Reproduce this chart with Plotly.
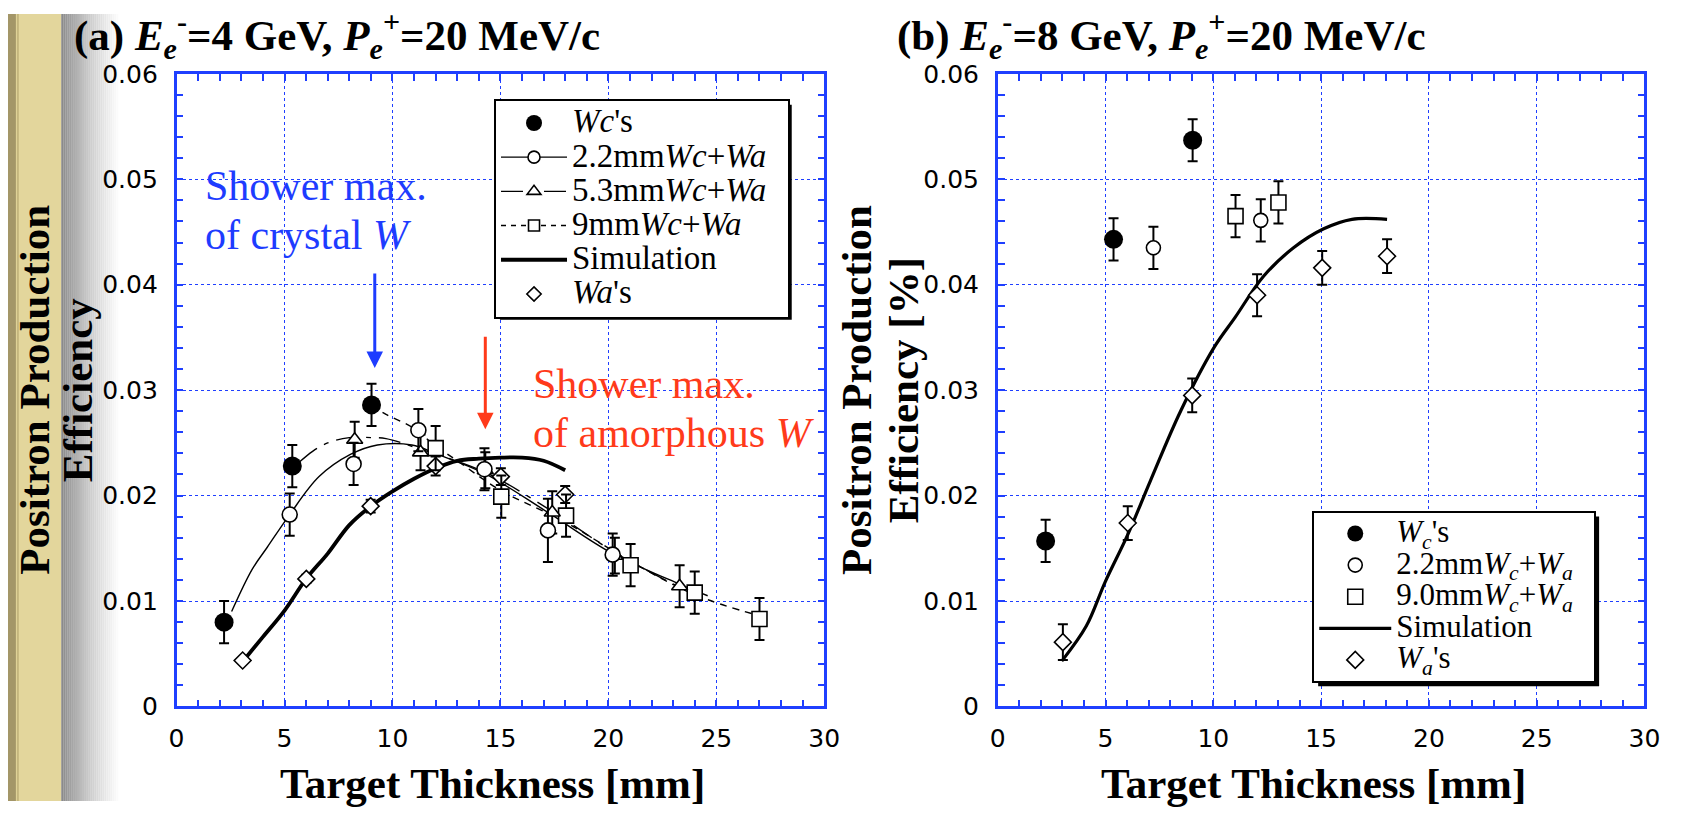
import plotly.graph_objects as go

W, H = 1693, 816

# ---------------- Panel (a): Ee- = 4 GeV ----------------
wc_a_x = [2.2, 5.36, 9.03]
wc_a_y = [0.0080, 0.0228, 0.0286]
wc_a_err = [0.002, 0.002, 0.002]

c22_a_x = [5.24, 8.2, 11.2, 14.26, 17.2, 20.2]
c22_a_y = [0.0182, 0.0230, 0.0262, 0.0225, 0.0167, 0.0144]
c22_a_err = [0.002, 0.002, 0.002, 0.002, 0.003, 0.002]

c53_a_x = [8.25, 11.3, 14.3, 17.4, 20.3, 23.3]
c53_a_y = [0.0253, 0.0241, 0.0224, 0.0184, 0.0143, 0.0114]
c53_a_err = [0.0017, 0.0017, 0.0017, 0.0020, 0.0017, 0.0020]

c9_a_x = [12.0, 15.04, 18.04, 21.03, 24.0, 27.0]
c9_a_y = [0.0245, 0.0199, 0.0181, 0.0134, 0.0108, 0.0083]
c9_a_err = [0.0021, 0.002, 0.002, 0.002, 0.002, 0.002]

wa_a_x = [3.06, 6.01, 8.99, 12.0, 15.02, 18.0]
wa_a_y = [0.00436, 0.0121, 0.0190, 0.0228, 0.0218, 0.0201]
wa_a_err = [0.0, 0.0004, 0.0006, 0.0009, 0.0008, 0.0008]

sim_a_x = [3.0, 4.0, 5.0, 6.0, 7.0, 8.0, 9.0, 10.0, 11.0, 12.0, 13.0, 14.0, 15.0, 16.0, 17.0, 18.0]
sim_a_y = [0.0041, 0.0066, 0.0091, 0.0121, 0.0145, 0.0172, 0.0190, 0.0204, 0.0216, 0.0226,
           0.0233, 0.0235, 0.0236, 0.0236, 0.0233, 0.0224]

fit22_a_x = [2.55, 3.5, 4.2, 5.24, 6.6, 8.05, 9.3, 10.9, 12.1, 14.26, 17.2, 20.2, 23.3, 24.6]
fit22_a_y = [0.0090, 0.0130, 0.0151, 0.0182, 0.0218, 0.0239, 0.0248, 0.0248, 0.0239, 0.0221,
             0.0184, 0.0145, 0.0116, 0.0105]

fit53_a_x = [5.7, 6.3, 7.0, 8.0, 9.0, 9.7, 11.3, 14.3, 17.4, 20.3, 23.3]
fit53_a_y = [0.0232, 0.0242, 0.0250, 0.0255, 0.0255, 0.0254, 0.0244, 0.0222, 0.0185, 0.0146, 0.0113]

fit9_a_x = [9.03, 9.7, 10.9, 12.0, 13.0, 15.0, 18.0, 21.0, 24.0, 27.0]
fit9_a_y = [0.0286, 0.0277, 0.0265, 0.0247, 0.0233, 0.0205, 0.0175, 0.0138, 0.0106, 0.0086]

# ---------------- Panel (b): Ee- = 8 GeV ----------------
wc_b_x = [2.22, 5.37, 9.04]
wc_b_y = [0.0157, 0.0443, 0.0537]
wc_b_err = [0.002, 0.002, 0.002]

c22_b_x = [7.22, 12.2]
c22_b_y = [0.0435, 0.0461]
c22_b_err = [0.002, 0.002]

c9_b_x = [11.03, 13.02]
c9_b_y = [0.0465, 0.0478]
c9_b_err = [0.002, 0.002]

wa_b_x = [3.02, 6.03, 9.02, 12.03, 15.05, 18.06]
wa_b_y = [0.0061, 0.0174, 0.0295, 0.0390, 0.0416, 0.0427]
wa_b_err = [0.0017, 0.0016, 0.0016, 0.0020, 0.0016, 0.0016]

sim_b_x = [2.97, 4.1, 4.98, 6.03, 7.08, 8.48, 10.05, 11.01, 12.33, 13.72, 15.12, 16.43, 18.06]
sim_b_y = [0.0043, 0.0076, 0.0118, 0.0163, 0.0214, 0.0280, 0.0341, 0.0369, 0.0408, 0.0435,
           0.0453, 0.0462, 0.0462]

x_ticks = [0, 5, 10, 15, 20, 25, 30]
y_ticks = [0, 0.01, 0.02, 0.03, 0.04, 0.05, 0.06]
y_tick_text = ["0", "0.01", "0.02", "0.03", "0.04", "0.05", "0.06"]

SERIF = "Liberation Serif, Times New Roman, serif"
SANS = "DejaVu Sans, Verdana, sans-serif"
BLUE_AX = "#1f3fff"
PAD = "\u00a0\u00a0"


def px(x):
    return x / W


def py(y):
    return 1 - y / H


def big(txt, size):
    return f'<span style="font-size:{size}px">{txt}{PAD}</span>'


fig = go.Figure()


def err(vals):
    return dict(type="data", array=vals, visible=True, color="black", thickness=2, width=5)


def open_marker(sym, size):
    return dict(symbol=sym, size=size, color="white", line=dict(color="black", width=1.6))


# ---- panel (a) lines ----
fig.add_trace(go.Scatter(x=fit22_a_x, y=fit22_a_y, mode="lines", line=dict(color="black", width=1.4, shape="spline"),
                         showlegend=False, xaxis="x", yaxis="y"))
fig.add_trace(go.Scatter(x=fit53_a_x, y=fit53_a_y, mode="lines",
                         line=dict(color="black", width=1.4, shape="spline", dash="22px,8px,5px,8px"),
                         showlegend=False, xaxis="x", yaxis="y"))
fig.add_trace(go.Scatter(x=fit9_a_x, y=fit9_a_y, mode="lines",
                         line=dict(color="black", width=1.4, shape="spline", dash="7px,6px"),
                         showlegend=False, xaxis="x", yaxis="y"))
fig.add_trace(go.Scatter(x=sim_a_x, y=sim_a_y, mode="lines", line=dict(color="black", width=3.8, shape="spline"),
                         showlegend=False, xaxis="x", yaxis="y"))

# ---- panel (a) markers ----
fig.add_trace(go.Scatter(x=wa_a_x, y=wa_a_y, mode="markers", error_y=err(wa_a_err),
                         marker=open_marker("diamond", 13), showlegend=False, xaxis="x", yaxis="y"))
fig.add_trace(go.Scatter(x=c9_a_x, y=c9_a_y, mode="markers", error_y=err(c9_a_err),
                         marker=open_marker("square", 15), showlegend=False, xaxis="x", yaxis="y"))
fig.add_trace(go.Scatter(x=c53_a_x, y=c53_a_y, mode="markers", error_y=err(c53_a_err),
                         marker=open_marker("triangle-up", 14), showlegend=False, xaxis="x", yaxis="y"))
fig.add_trace(go.Scatter(x=c22_a_x, y=c22_a_y, mode="markers", error_y=err(c22_a_err),
                         marker=open_marker("circle", 15), showlegend=False, xaxis="x", yaxis="y"))
fig.add_trace(go.Scatter(x=wc_a_x, y=wc_a_y, mode="markers", error_y=err(wc_a_err),
                         marker=dict(symbol="circle", size=19, color="black"), showlegend=False,
                         xaxis="x", yaxis="y"))

# ---- panel (a) legend entries ----
LA = 33
leg_a = [
    ("<i>Wc</i>'s", "markers", dict(symbol="circle", size=16, color="black"), None),
    ("2.2mm<i>Wc</i>+<i>Wa</i>", "lines+markers", open_marker("circle", 12), dict(color="black", width=1.4)),
    ("5.3mm<i>Wc</i>+<i>Wa</i>", "lines+markers", open_marker("triangle-up", 12),
     dict(color="black", width=1.4, dash="22px,8px,5px,8px")),
    ("9mm<i>Wc</i>+<i>Wa</i>", "lines+markers", open_marker("square", 11),
     dict(color="black", width=1.4, dash="5px,5px")),
    ("Simulation", "lines", None, dict(color="black", width=3.8)),
    ("<i>Wa</i>'s", "markers", open_marker("diamond", 11), None),
]
for i, (name, mode, mk, ln) in enumerate(leg_a):
    kw = dict(x=[None], y=[None], mode=mode, name=big(name, LA), legend="legend", legendrank=i + 1,
              xaxis="x", yaxis="y")
    if mk is not None:
        kw["marker"] = mk
    if ln is not None:
        kw["line"] = ln
    fig.add_trace(go.Scatter(**kw))

# ---- panel (b) ----
LB = 31
fig.add_trace(go.Scatter(x=sim_b_x, y=sim_b_y, mode="lines", line=dict(color="black", width=3.2, shape="spline"),
                         name=big("Simulation", LB), legend="legend2", legendrank=4, showlegend=True,
                         xaxis="x2", yaxis="y2"))
fig.add_trace(go.Scatter(x=wa_b_x, y=wa_b_y, mode="markers", error_y=err(wa_b_err),
                         marker=open_marker("diamond", 13), name=big("<i>W<sub>a</sub></i>'s", LB),
                         legend="legend2", legendrank=5, xaxis="x2", yaxis="y2"))
fig.add_trace(go.Scatter(x=c9_b_x, y=c9_b_y, mode="markers", error_y=err(c9_b_err),
                         marker=open_marker("square", 15),
                         name=big("9.0mm<i>W<sub>c</sub></i>+<i>W<sub>a</sub></i>", LB),
                         legend="legend2", legendrank=3, xaxis="x2", yaxis="y2"))
fig.add_trace(go.Scatter(x=c22_b_x, y=c22_b_y, mode="markers", error_y=err(c22_b_err),
                         marker=open_marker("circle", 14),
                         name=big("2.2mm<i>W<sub>c</sub></i>+<i>W<sub>a</sub></i>", LB),
                         legend="legend2", legendrank=2, xaxis="x2", yaxis="y2"))
fig.add_trace(go.Scatter(x=wc_b_x, y=wc_b_y, mode="markers", error_y=err(wc_b_err),
                         marker=dict(symbol="circle", size=19, color="black"),
                         name=big("<i>W<sub>c</sub></i>'s", LB),
                         legend="legend2", legendrank=1, xaxis="x2", yaxis="y2"))


# ---- axes ----
def xax(domain, anchor):
    return dict(domain=domain, anchor=anchor, range=[0, 30], tickvals=x_ticks, ticks="inside", ticklen=7,
                tickwidth=1.5, tickcolor=BLUE_AX, showline=True, linecolor=BLUE_AX, linewidth=2.5,
                mirror="ticks", showgrid=True, gridcolor=BLUE_AX, griddash="dot", gridwidth=1.2,
                zeroline=False, tickfont=dict(family=SANS, size=25, color="black"), ticklabelstandoff=8,
                minor=dict(dtick=1, ticks="inside", ticklen=7, tickwidth=1.5, tickcolor=BLUE_AX, showgrid=False),
                fixedrange=True)


def yax(domain, anchor):
    return dict(domain=domain, anchor=anchor, range=[0, 0.06], tickvals=y_ticks, ticktext=y_tick_text,
                ticks="inside", ticklen=7, tickwidth=1.5, tickcolor=BLUE_AX, showline=True, linecolor=BLUE_AX,
                linewidth=2.5, mirror="ticks", showgrid=True, gridcolor=BLUE_AX, griddash="dot", gridwidth=1.2,
                zeroline=False, tickfont=dict(family=SANS, size=25, color="black"), ticklabelstandoff=11,
                minor=dict(dtick=0.002, ticks="inside", ticklen=7, tickwidth=1.5, tickcolor=BLUE_AX,
                           showgrid=False),
                fixedrange=True)


ydom = [1 - 718 / H, 1 - 62 / H]

# ---- background decoration (left strip) ----
shapes = []
shapes.append(dict(type="rect", xref="paper", yref="paper", x0=0, x1=px(54), y0=0, y1=1,
                   fillcolor="#E3D69C", line=dict(width=0), layer="below"))
shapes.append(dict(type="rect", xref="paper", yref="paper", x0=0, x1=px(8), y0=0, y1=1,
                   fillcolor="#A39668", line=dict(width=0), layer="below"))
shapes.append(dict(type="rect", xref="paper", yref="paper", x0=px(9), x1=px(11), y0=0, y1=1,
                   fillcolor="#C4B67E", line=dict(width=0), layer="below"))
nstep = 30
for i in range(nstep):
    t = i / (nstep - 1)
    g = int(138 + (255 - 138) * (t ** 0.8))
    shapes.append(dict(type="rect", xref="paper", yref="paper", x0=px(54 + i * 2), x1=px(56 + i * 2),
                       y0=0, y1=1, fillcolor=f"rgb({g},{g},{g})", line=dict(width=0), layer="below"))

# legend shadows
shapes.append(dict(type="rect", xref="paper", yref="paper", x0=px(499), x1=px(795), y0=py(317), y1=py(94),
                   fillcolor="black", line=dict(width=0), layer="above"))
shapes.append(dict(type="rect", xref="paper", yref="paper", x0=px(1329), x1=px(1614), y0=py(697), y1=py(521),
                   fillcolor="black", line=dict(width=0), layer="above"))

annotations = []
title_font = dict(family=SERIF, size=43, color="black")
annotations.append(dict(xref="paper", yref="paper", x=px(65), y=py(22), xanchor="left", yanchor="middle",
                        showarrow=False, font=title_font,
                        text="<b>(a) <i>E</i><sub><i>e</i></sub><sup>-</sup>=4 GeV, <i>P</i><sub><i>e</i></sub><sup>+</sup>=20 MeV/c</b>"))
annotations.append(dict(xref="paper", yref="paper", x=px(900), y=py(22), xanchor="left", yanchor="middle",
                        showarrow=False, font=title_font,
                        text="<b>(b) <i>E</i><sub><i>e</i></sub><sup>-</sup>=8 GeV, <i>P</i><sub><i>e</i></sub><sup>+</sup>=20 MeV/c</b>"))
ax_font = dict(family=SERIF, size=43, color="black")
for cx in [491, 1324]:
    annotations.append(dict(xref="paper", yref="paper", x=px(cx), y=py(798), xanchor="center", yanchor="middle",
                            showarrow=False, font=ax_font, text="<b>Target Thickness [mm]</b>"))
for cx, txt in [(27, "Positron Production"), (70, "Efficiency"),
                (860, "Positron Production"), (908, "Efficiency [%]")]:
    annotations.append(dict(xref="paper", yref="paper", x=px(cx), y=py(390), xanchor="center", yanchor="middle",
                            showarrow=False, textangle=-90, font=ax_font, text=f"<b>{txt}</b>"))

# text annotations in panel (a)
blue = "#1e3cff"
red = "#ff3a1a"
note_font_b = dict(family=SERIF, size=42, color=blue)
note_font_r = dict(family=SERIF, size=42, color=red)
annotations.append(dict(xref="paper", yref="paper", x=px(198), y=py(178), xanchor="left", yanchor="middle",
                        showarrow=False, font=note_font_b, text="Shower max."))
annotations.append(dict(xref="paper", yref="paper", x=px(198), y=py(229), xanchor="left", yanchor="middle",
                        showarrow=False, font=note_font_b, text="of crystal <i>W</i>"))
annotations.append(dict(xref="paper", yref="paper", x=px(531), y=py(384), xanchor="left", yanchor="middle",
                        showarrow=False, font=note_font_r, text="Shower max."))
annotations.append(dict(xref="paper", yref="paper", x=px(531), y=py(434), xanchor="left", yanchor="middle",
                        showarrow=False, font=note_font_r, text="of amorphous <i>W</i>"))
# arrows
annotations.append(dict(xref="x", yref="y", x=9.18, y=0.0321, axref="x", ayref="y", ax=9.18, ay=0.0412,
                        text="", showarrow=True, arrowhead=2, arrowsize=1.1, arrowwidth=3, arrowcolor=blue,
                        standoff=0))
annotations.append(dict(xref="x", yref="y", x=14.3, y=0.0263, axref="x", ayref="y", ax=14.3, ay=0.0352,
                        text="", showarrow=True, arrowhead=2, arrowsize=1.1, arrowwidth=3, arrowcolor=red,
                        standoff=0))

fig.update_layout(
    width=W, height=H, autosize=False,
    margin=dict(l=0, r=0, t=0, b=0),
    paper_bgcolor="white", plot_bgcolor="white",
    xaxis=xax([171 / W, 828 / W], "y"),
    yaxis=yax(ydom, "x"),
    xaxis2=xax([1004 / W, 1660 / W], "y2"),
    yaxis2=yax(ydom, "x2"),
    legend=dict(x=px(493), y=py(88), xanchor="left", yanchor="top", bgcolor="white", bordercolor="black",
                borderwidth=2, font=dict(family=SERIF, size=24, color="black"), itemwidth=66,
                tracegroupgap=0, itemclick=False),
    legend2=dict(x=px(1323), y=py(515), xanchor="left", yanchor="top", bgcolor="white", bordercolor="black",
                 borderwidth=2, font=dict(family=SERIF, size=22, color="black"), itemwidth=72,
                 tracegroupgap=0, itemclick=False),
    shapes=shapes,
    annotations=annotations,
    showlegend=True,
)

fig.write_html("out.html")
